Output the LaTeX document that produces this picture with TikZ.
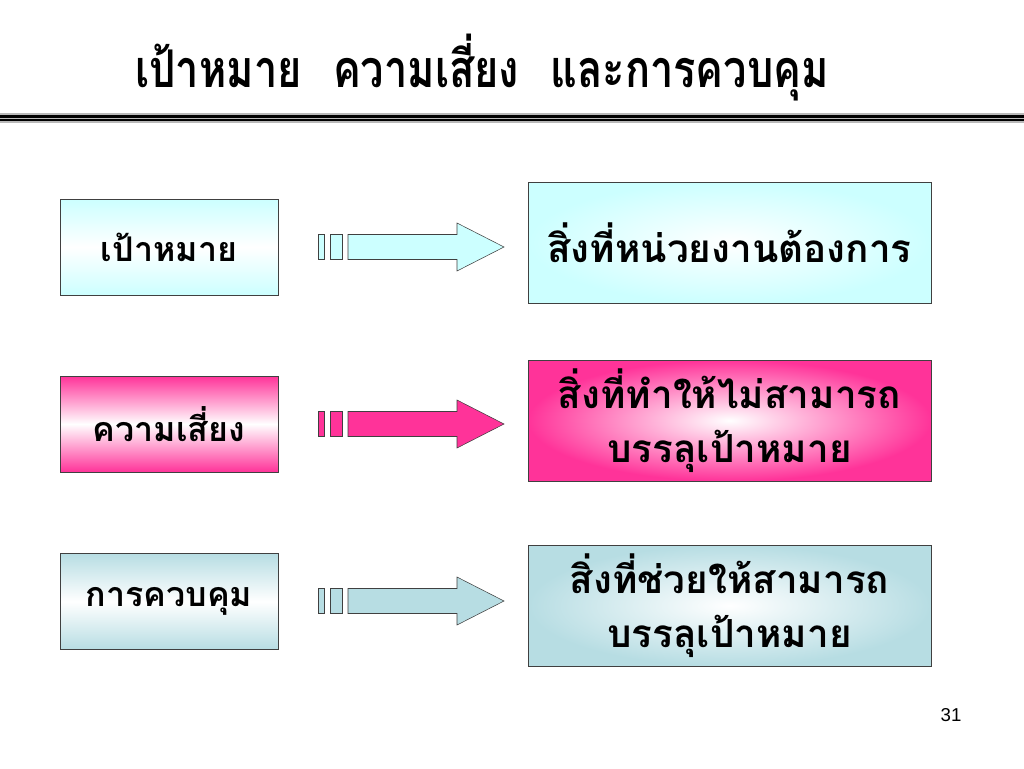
\documentclass[tikz,border=0pt]{standalone}
\usepackage{fontspec}
\setmainfont{Liberation Sans}
\newfontfamily\thaifont[Script=Thai]{Loma}
\newfontfamily\thaititle[Script=Thai,FakeStretch=0.8]{Loma}
\usetikzlibrary{positioning}
\definecolor{cyanfill}{HTML}{CCFFFF}
\definecolor{pinkfill}{HTML}{FF3399}
\definecolor{bluefill}{HTML}{B7DDE3}
\tikzset{x=0.75pt,y=-0.75pt,
	termbox/.style={draw=black!75,minimum width=163.5pt,minimum height=72pt,
		top color=#1,bottom color=#1,middle color=white,
		font=\thaifont\bfseries\fontsize{25.5}{30}\selectfont},
	defbox/.style={draw=black!75,minimum width=302.25pt,minimum height=90.75pt,
		inner color=white,outer color=#1,align=center,
		font=\thaifont\bfseries\fontsize{29}{40}\selectfont},
	arrowpart/.style={fill=#1,draw=black!75}}
\begin{document}
\begin{tikzpicture}
	\useasboundingbox[fill=white] (0,0) rectangle (1024,768);
	% title and rule
	\node (title) at (482,68) {\thaititle\bfseries\fontsize{39}{46}\selectfont เป้าหมาย\hspace{0.6em}ความเสี่ยง\hspace{0.6em}และการควบคุม};
	\fill[gray!55] (0,113) rectangle (1024,122.5);
	\fill[black] (0,114.5) rectangle (1024,117.5);
	\fill[black] (0,119) rectangle (1024,121);
	% left column
	\node[termbox=cyanfill] (goal) at (169,247) {เป้าหมาย};
	\node[termbox=pinkfill] (risk) at (169,424) {ความเสี่ยง};
	\node[termbox=bluefill] (control) at (169,601.5) {การควบคุม};
	% right column
	\node[defbox=cyanfill] (goaldef) at (729.5,242.5) {สิ่งที่หน่วยงานต้องการ};
	\node[defbox=pinkfill] (riskdef) at (729.5,420.5) {สิ่งที่ทำให้ไม่สามารถ\\บรรลุเป้าหมาย};
	\node[defbox=bluefill] (controldef) at (729.5,605.5) {สิ่งที่ช่วยให้สามารถ\\บรรลุเป้าหมาย};
	% block arrows
	\foreach \row/\c in {247/cyanfill,424/pinkfill,601/bluefill}{
		\begin{scope}[shift={(0,\row)}]
			\draw[arrowpart=\c] (318,-12.5) rectangle (324,12.5);
			\draw[arrowpart=\c] (330,-12.5) rectangle (342,12.5);
			\draw[arrowpart=\c] (348,-12.5) -- (457,-12.5) -- (457,-24) -- (504,0)
				-- (457,24) -- (457,12.5) -- (348,12.5) -- cycle;
		\end{scope}
	}
	\node[font=\fontsize{14}{16}\selectfont] (page) at (951,715) {31};
\end{tikzpicture}
\end{document}
